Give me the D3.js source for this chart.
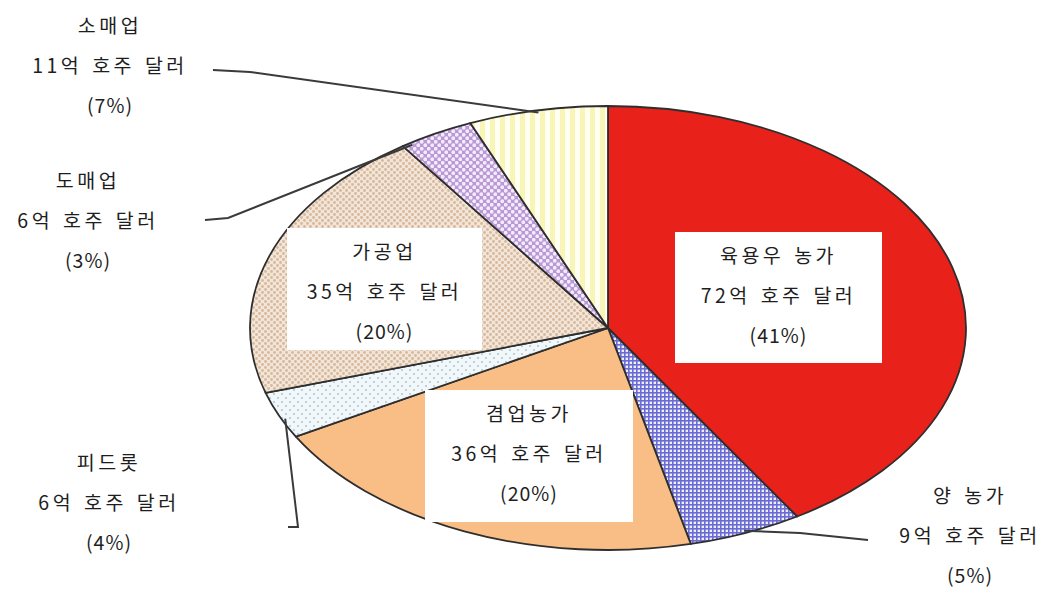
<!DOCTYPE html>
<html>
<head>
<meta charset="utf-8">
<script src="https://cdn.jsdelivr.net/npm/d3@7"></script>
<style>
  body { margin: 0; background: #fff; }
  text { font-family: "Noto Sans CJK KR", "Noto Sans", sans-serif; fill: #1e1e1e; }
</style>
</head>
<body>
<div id="chart"></div>
<script>
// segments, clockwise from 12 o'clock
const categories = ["육용우 농가", "양 농가", "겸업농가", "피드롯", "가공업", "도매업", "소매업"]
const values = [72, 9, 36, 6, 35, 6, 11]     // 억 호주 달러
const shares = [41, 5, 20, 4, 20, 3, 7]      // %

const width = 1054, height = 589
const cx = 608, cy = 328, rx = 358, ry = 222

// fill per segment (pattern ids)
const fills = ["#e8221a", "url(#p-grid)", "#f9be86", "url(#p-lightdots)", "url(#p-tan)", "url(#p-purple)", "url(#p-stripes)"]

// label layout: inside boxes or outside text + leader
const labelLayout = [
  { inside: true, x: 675, y: 232, w: 207, h: 131 },
  { inside: false, x: 970, y: 496, anchorT: 0.5, leader: [[800, 533], [868, 540]] },
  { inside: true, x: 425, y: 390, w: 208, h: 132 },
  { inside: false, x: 109, y: 463, anchorT: 0.4, leader: [[298, 527], [288, 527]] },
  { inside: true, x: 287, y: 228, w: 195, h: 122 },
  { inside: false, x: 88, y: 181, anchorT: 0.12, leader: [[228, 218], [205, 220]] },
  { inside: false, x: 110, y: 26, anchorT: 0.5, leader: [[250, 72], [213, 70]] }
]

const data = categories.map((c, i) => ({ name: c, value: values[i], share: shares[i], fill: fills[i], layout: labelLayout[i] }))

const svg = d3.select("#chart").append("svg")
  .attr("width", width)
  .attr("height", height)

const defs = svg.append("defs")

let pat = defs.append("pattern").attr("id", "p-grid").attr("patternUnits", "userSpaceOnUse").attr("width", 4).attr("height", 4)
pat.append("rect").attr("width", 4).attr("height", 4).attr("fill", "#eeeefe")
pat.append("rect").attr("width", 4).attr("height", 1.6).attr("fill", "#6b6bd4")
pat.append("rect").attr("width", 1.6).attr("height", 4).attr("fill", "#6b6bd4")

pat = defs.append("pattern").attr("id", "p-lightdots").attr("patternUnits", "userSpaceOnUse").attr("width", 8).attr("height", 8)
pat.append("rect").attr("width", 8).attr("height", 8).attr("fill", "#f1f8fc")
pat.append("circle").attr("cx", 2).attr("cy", 2).attr("r", 1).attr("fill", "#b5c0c8")
pat.append("circle").attr("cx", 6).attr("cy", 6).attr("r", 1).attr("fill", "#b5c0c8")

pat = defs.append("pattern").attr("id", "p-tan").attr("patternUnits", "userSpaceOnUse").attr("width", 6).attr("height", 6)
pat.append("rect").attr("width", 6).attr("height", 6).attr("fill", "#f3e6d9")
pat.append("circle").attr("cx", 1.5).attr("cy", 1.5).attr("r", 1.4).attr("fill", "#d6b99c")
pat.append("circle").attr("cx", 4.5).attr("cy", 4.5).attr("r", 1.4).attr("fill", "#d6b99c")

pat = defs.append("pattern").attr("id", "p-purple").attr("patternUnits", "userSpaceOnUse").attr("width", 7).attr("height", 7)
pat.append("rect").attr("width", 7).attr("height", 7).attr("fill", "#b998d6")
pat.append("circle").attr("cx", 1.75).attr("cy", 1.75).attr("r", 1.9).attr("fill", "#f3eafa")
pat.append("circle").attr("cx", 5.25).attr("cy", 5.25).attr("r", 1.9).attr("fill", "#f3eafa")

pat = defs.append("pattern").attr("id", "p-stripes").attr("patternUnits", "userSpaceOnUse").attr("width", 10).attr("height", 10)
pat.append("rect").attr("width", 10).attr("height", 10).attr("fill", "#fffff2")
pat.append("rect").attr("width", 5).attr("height", 10).attr("fill", "#f9f5b6")

const pie = d3.pie().sort(null).value(d => d.value)
const arcs = pie(data)

// point on the (elliptical) rim at angle a, clockwise from top
const rim = (a, k = 1) => [cx + rx * k * Math.sin(a), cy - ry * k * Math.cos(a)]

const sector = d => {
  let p0 = rim(d.startAngle), p1 = rim(d.endAngle)
  let large = d.endAngle - d.startAngle > Math.PI ? 1 : 0
  return `M${cx},${cy}L${p0}A${rx},${ry} 0 ${large} 1 ${p1}Z`
}

svg.append("g").selectAll("path")
  .data(arcs)
  .join("path")
    .attr("d", sector)
    .attr("fill", d => d.data.fill)
    .attr("stroke", "#2e2e2e")
    .attr("stroke-width", 1.8)
    .attr("stroke-linejoin", "round")

// leader lines for outside labels
let line = d3.line()
svg.append("g").selectAll("path")
  .data(arcs.filter(d => !d.data.layout.inside))
  .join("path")
    .attr("d", d => {
      let L = d.data.layout
      let a = d.startAngle + (d.endAngle - d.startAngle) * L.anchorT
      return line([rim(a, 0.99), ...L.leader])
    })
    .attr("fill", "none")
    .attr("stroke", "#3a3a3a")
    .attr("stroke-width", 2)

// labels
let lineGap = 40
let labels = svg.append("g").selectAll("g")
  .data(arcs)
  .join("g")

labels.filter(d => d.data.layout.inside)
  .append("rect")
    .attr("x", d => d.data.layout.x)
    .attr("y", d => d.data.layout.y)
    .attr("width", d => d.data.layout.w)
    .attr("height", d => d.data.layout.h)
    .attr("fill", "#fff")

labels.each(function(d) {
  let L = d.data.layout
  let x = L.inside ? L.x + L.w / 2 : L.x
  let y0 = L.inside ? L.y + 24 : L.y
  let lines = [d.data.name, d.data.value + "억 호주 달러", "(" + d.data.share + "%)"]
  d3.select(this).selectAll("text")
    .data(lines)
    .join("text")
      .attr("x", x)
      .attr("y", (t, i) => y0 + i * lineGap)
      .attr("dy", "0.35em")
      .attr("text-anchor", "middle")
      .attr("font-size", 19.5)
      .attr("letter-spacing", (t, i) => i === 2 ? 1 : 3.5)
      .attr("word-spacing", 2)
      .text(t => t)
})
</script>
</body>
</html>
